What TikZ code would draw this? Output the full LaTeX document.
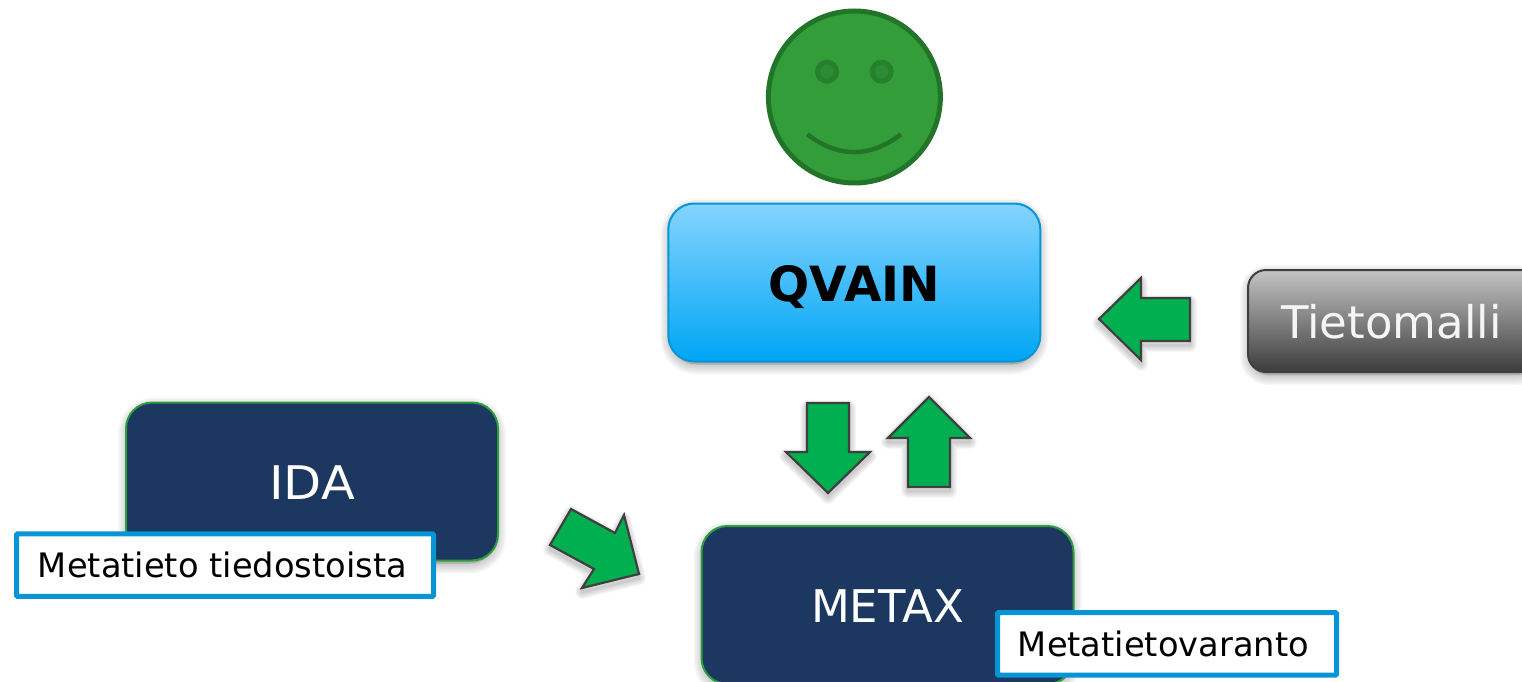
\documentclass[tikz,border=0pt]{standalone}
\usepackage{fontspec}
\setmainfont{DejaVu Sans}
\usetikzlibrary{backgrounds}
\definecolor{navybox}{HTML}{1C3860}
\definecolor{greenline}{HTML}{2E9E3C}
\definecolor{arrowgreen}{HTML}{00B050}
\definecolor{arrowline}{HTML}{3F3F3F}
\definecolor{labelblue}{HTML}{0795D6}
\definecolor{faceline}{HTML}{227528}
\definecolor{facefill}{HTML}{339E39}
\definecolor{eyeline}{HTML}{26802D}
\definecolor{eyefill}{HTML}{2B8C33}
\definecolor{qtop}{HTML}{85D4FF}
\definecolor{qbot}{HTML}{00A5F5}
\definecolor{gtop}{HTML}{C4C4C4}
\definecolor{gbot}{HTML}{3C3C3C}
\tikzset{
  softlayer/.style={draw=black,draw opacity=.03,line width=#1,line join=round},
  softcore/.style={fill=black,fill opacity=.16},
  roundbox/.style={rectangle,rounded corners=26pt,minimum width=372pt,minimum height=158pt,inner sep=0pt},
  navynode/.style={roundbox,draw=greenline,line width=2pt,fill=navybox,text=white,text depth=0pt,font=\fontsize{45}{50}\selectfont},
  qvainnode/.style={roundbox,draw=labelblue,line width=2pt,top color=qtop,bottom color=qbot,text=black,text height=37pt,text depth=0pt,font=\fontsize{48.5}{54}\selectfont\bfseries},
  greynode/.style={rectangle,rounded corners=18pt,minimum width=290pt,minimum height=102pt,inner sep=0pt,draw=arrowline,line width=2pt,top color=gtop,bottom color=gbot},
  labelnode/.style={rectangle,rounded corners=1pt,draw=labelblue,line width=5pt,fill=white,text=black,inner sep=0pt,minimum height=62.5pt,font=\fontsize{33.7}{38}\selectfont},
  blockarrow/.style={draw=arrowline,fill=arrowgreen,line width=2.2pt,line join=miter},
  eyenode/.style={circle,draw=eyeline,line width=5pt,fill=eyefill,minimum size=19pt,inner sep=0pt}
}
\newcommand\softblock[1]{%
  \begin{pgfonlayer}{background}
  \foreach \w in {14,12,10,8,6,4,2}{\draw[softlayer=\w pt,yshift=-4pt]#1;}%
  \end{pgfonlayer}
  \draw[blockarrow]#1;}
\newcommand\softbox[2][26pt]{%
  \foreach \w in {20,17,14,11,8,5,2}{\draw[softlayer=\w pt,rounded corners=#1] ([xshift=3pt,yshift=-6pt]#2.north west) rectangle ([xshift=-3pt,yshift=-2pt]#2.south east);}
  \fill[softcore,rounded corners=#1] ([xshift=3pt,yshift=-6pt]#2.north west) rectangle ([xshift=-3pt,yshift=-2pt]#2.south east);}
\begin{document}
\begin{tikzpicture}[x=1pt,y=-1pt]
\useasboundingbox (0,0) rectangle (1522,682);
\clip (0,0) rectangle (1522,682);
% face
\node[circle,draw=faceline,line width=5pt,fill=facefill,minimum size=172pt,inner sep=0pt] (face) at (854.4,97) {};
\node[eyenode] (eyeL) at (827,71.7) {};
\node[eyenode] (eyeR) at (881.7,71.7) {};
\coordinate (smileL) at (807.3,134.3);
\coordinate (smileR) at (901,134.3);
\draw[faceline,line width=4.5pt] (smileL) .. controls (838,158) and (870,158) .. (smileR);
% boxes
\node[qvainnode] (qvain) at (854.3,282.5) {QVAIN};
\node[navynode,text height=36pt] (ida) at (312,481.5) {\scalebox{1.1}[1.03]{IDA}};
\node[navynode,text height=34pt] (metax) at (887.5,605) {METAX};
\node[greynode,anchor=west] (tieto) at (1247,321) {};
\node[text=white!96!black,font=\fontsize{45}{50}\selectfont] (tietotext) at (1391.5,322) {Tietomalli};
\node[labelnode,minimum width=417pt] (lab1) at (225,565.2) {\hspace*{-5pt}Metatieto tiedostoista};
\node[labelnode,minimum width=339pt] (lab2) at (1167,643.8) {\hspace*{-7pt}Metatietovaranto};
\begin{pgfonlayer}{background}
\softbox{qvain}
\softbox{ida}
\softbox{metax}
\softbox[18pt]{tieto}
\end{pgfonlayer}
% arrows
\softblock{(1099,319) -- (1141,278) -- (1141,298) -- (1190,298) -- (1190,341) -- (1141,341) -- (1141,360) -- cycle}
\softblock{(807,403) -- (849,403) -- (849,452) -- (870,452) -- (828,493) -- (786,452) -- (807,452) -- cycle}
\softblock{(929,397) -- (970,438) -- (950,438) -- (950,487) -- (908,487) -- (908,438) -- (888,438) -- cycle}
\softblock{(571,509) -- (615,533) -- (624,515) -- (639,574) -- (582,588) -- (594,569) -- (550,545) -- cycle}
\end{tikzpicture}
\end{document}
